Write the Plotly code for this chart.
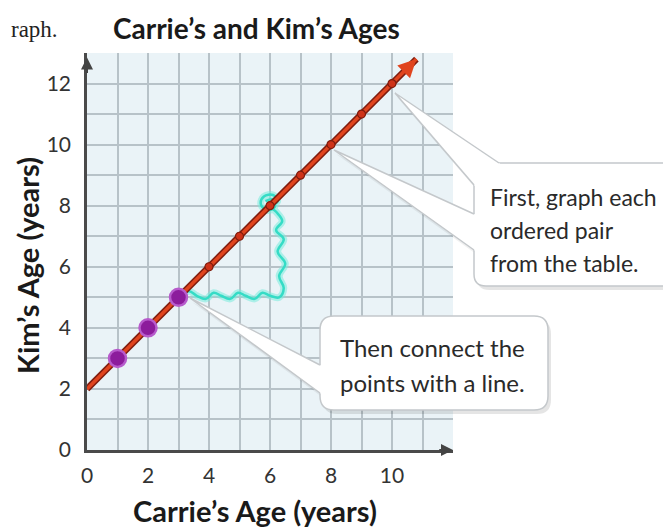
import plotly.graph_objects as go

# ---------------- data ----------------
carrie_age = [1, 2, 3, 4, 5, 6, 7, 8, 9, 10]
kim_age = [3, 4, 5, 6, 7, 8, 9, 10, 11, 12]
highlight_n = 3                      # first three pairs circled in purple
line_x = [0, 10.8]                   # extent of the drawn line (with arrow)
x_ticks = [0, 2, 4, 6, 8, 10]
y_ticks = [0, 2, 4, 6, 8, 10, 12]
# hand-drawn cyan "rise / run" scribble
scribble_x = [3.1, 3.35, 3.6, 3.9, 4.15, 4.4, 4.7, 4.95, 5.2, 5.5, 5.75, 6.0, 6.3, 6.45,
              6.3, 6.5, 6.25, 6.45, 6.2, 6.4, 6.2, 6.05, 6.25, 6.1, 5.8, 5.7, 5.9, 6.15, 6.1, 5.85]
scribble_y = [5.05, 5.2, 5.05, 4.95, 5.15, 5.05, 4.95, 5.15, 5.05, 4.95, 5.15, 5.05, 5.0, 5.3,
              5.7, 6.1, 6.5, 6.9, 7.2, 7.5, 7.8, 7.95, 8.15, 8.35, 8.3, 8.05, 7.85, 7.95, 8.2, 8.15]

title = "Carrie’s and Kim’s Ages"
x_title = "Carrie’s Age (years)"
y_title = "Kim’s Age (years)"
note1 = ["First, graph each", "ordered pair", "from the table."]
note2 = ["Then connect the", "points with a line."]

offset = kim_age[0] - carrie_age[0]
line_y = [x + offset for x in line_x]

# ---------------- layout geometry ----------------
# page body has an 8px margin; figure is sized to fit the 671x528 window
OFF = 8
W, H = 671 - OFF, 528 - OFF
PL, PT, PR, PB = 87, 53, 453, 450        # plot area in window pixels
L, T = PL - OFF, PT - OFF
R, B = W - (PR - OFF), H - (PB - OFF)
PW, PH = PR - PL, PB - PT


def px(x):
    return (x - PL) / PW


def py(y):
    return (PB - y) / PH


FONT = "Lato"
RED = "#e0441e"
RED_DARK = "#7e1c0e"

fig = go.Figure()

# cyan scribble (halo + line)
fig.add_trace(go.Scatter(x=scribble_x, y=scribble_y, mode="lines",
                         line=dict(color="rgba(120,235,220,0.55)", width=7, shape="spline", smoothing=1.1),
                         hoverinfo="skip", showlegend=False))
fig.add_trace(go.Scatter(x=scribble_x, y=scribble_y, mode="lines",
                         line=dict(color="#35dcc6", width=2.5, shape="spline", smoothing=1.1),
                         hoverinfo="skip", showlegend=False))

# line (dark outline + red core)
fig.add_trace(go.Scatter(x=line_x, y=line_y, mode="lines",
                         line=dict(color=RED_DARK, width=6.5), hoverinfo="skip", showlegend=False))
fig.add_trace(go.Scatter(x=line_x, y=line_y, mode="lines",
                         line=dict(color=RED, width=3.5), hoverinfo="skip", showlegend=False))

# red dots
fig.add_trace(go.Scatter(x=carrie_age[highlight_n:], y=kim_age[highlight_n:], mode="markers",
                         marker=dict(color="#cf3218", size=8, line=dict(color=RED_DARK, width=1.2)),
                         showlegend=False))
# purple circled points
fig.add_trace(go.Scatter(x=carrie_age[:highlight_n], y=kim_age[:highlight_n], mode="markers",
                         marker=dict(color="#8c1c9c", size=17, line=dict(color="#b75bcc", width=2.5)),
                         showlegend=False))

shapes = []


def rounded(x0, y0, x1, y1, r):
    rx, ry = r / PW, r / PH
    X0, X1, Y0, Y1 = px(x0), px(x1), py(y1), py(y0)
    return (f"M {X0+rx} {Y1} L {X1-rx} {Y1} Q {X1} {Y1} {X1} {Y1-ry} "
            f"L {X1} {Y0+ry} Q {X1} {Y0} {X1-rx} {Y0} L {X0+rx} {Y0} "
            f"Q {X0} {Y0} {X0} {Y0+ry} L {X0} {Y1-ry} Q {X0} {Y1} {X0+rx} {Y1} Z")


def pt(p):
    return f"{px(p[0])} {py(p[1])}"


def wedge_fill(tip, a, b, ext=14):
    def push(p):
        dx, dy = p[0] - tip[0], p[1] - tip[1]
        n = (dx * dx + dy * dy) ** 0.5
        return (p[0] + dx / n * ext, p[1] + dy / n * ext)
    return f"M {pt(tip)} L {pt(push(a))} L {pt(push(b))} Z"


def wedge_edges(tip, a, b):
    return f"M {pt(a)} L {pt(tip)} L {pt(b)}"


boxes = [
    dict(box=(474, 163, 720, 286, 12),
         wedges=[((395, 93), (499, 163), (474, 185)), ((334, 150), (474, 214), (474, 250))]),
    dict(box=(320, 316, 548, 410, 14),
         wedges=[((190, 298), (320, 365), (320, 393))]),
]
EDGE = "#c4c8cb"
for bx in boxes:
    x0, y0, x1, y1, r = bx["box"]
    shapes.append(dict(type="path", xref="paper", yref="paper", path=rounded(x0 + 3, y0 + 4, x1 + 3, y1 + 4, r),
                       fillcolor="rgba(0,0,0,0.10)", line=dict(width=0)))
    for tip, a, b in bx["wedges"]:
        shapes.append(dict(type="path", xref="paper", yref="paper",
                           path=wedge_fill((tip[0] + 2, tip[1] + 4), (a[0] + 2, a[1] + 4), (b[0] + 2, b[1] + 4), ext=0),
                           fillcolor="rgba(0,0,0,0.06)", line=dict(width=0)))
    shapes.append(dict(type="path", xref="paper", yref="paper", path=rounded(x0, y0, x1, y1, r),
                       fillcolor="white", line=dict(color=EDGE, width=1.5)))
    for tip, a, b in bx["wedges"]:
        shapes.append(dict(type="path", xref="paper", yref="paper", path=wedge_fill(tip, a, b),
                           fillcolor="white", line=dict(width=0)))
        shapes.append(dict(type="path", xref="paper", yref="paper", path=wedge_edges(tip, a, b),
                           line=dict(color=EDGE, width=1.5)))

annotations = []
# line arrowhead
annotations.append(dict(x=line_x[1], y=line_y[1], ax=line_x[1] - 0.5, ay=line_y[1] - 0.5,
                        xref="x", yref="y", axref="x", ayref="y", showarrow=True, text="",
                        arrowhead=2, arrowsize=1.2, arrowwidth=3, arrowcolor=RED))
# axis arrowheads
annotations.append(dict(x=12, y=0, ax=11.5, ay=0, xref="x", yref="y", axref="x", ayref="y",
                        showarrow=True, text="", arrowhead=2, arrowsize=1.2, arrowwidth=2, arrowcolor="#444"))
annotations.append(dict(x=0, y=12.85, ax=0, ay=12.3, xref="x", yref="y", axref="x", ayref="y",
                        showarrow=True, text="", arrowhead=2, arrowsize=1.2, arrowwidth=2, arrowcolor="#444"))


def label(x, y, text, size, family=FONT, color="#1a1a1a", xanchor="center", angle=0):
    annotations.append(dict(x=px(x), y=py(y), xref="paper", yref="paper", text=text,
                            xanchor=xanchor, yanchor="middle", textangle=angle, showarrow=False,
                            font=dict(family=family, size=size, color=color)))


label(256, 28, f"<b>{title}</b>", 28)
label(9, 30, "raph.", 23, family="Liberation Serif", color="#222", xanchor="left")
label(255, 510, f"<b>{x_title}</b>", 29)
label(27, 266, f"<b>{y_title}</b>", 29, angle=-90)

for i, s in enumerate(note1):
    label(488, 197 + 33 * i, s, 23, color="#2a2a2a", xanchor="left")
for i, s in enumerate(note2):
    label(338, 347 + 35 * i, s, 24, color="#2a2a2a", xanchor="left")

GRID = "#b7c2c8"
fig.update_layout(
    width=W, height=H,
    margin=dict(l=L, r=R, t=T, b=B, pad=0),
    paper_bgcolor="white", plot_bgcolor="#eaf3f7",
    showlegend=False,
    shapes=shapes, annotations=annotations,
    xaxis=dict(range=[0, 12], tickvals=x_ticks, ticktext=[str(v) for v in x_ticks],
               showgrid=True, gridcolor=GRID, gridwidth=2,
               minor=dict(dtick=1, showgrid=True, gridcolor=GRID, gridwidth=2),
               showline=True, linecolor="#4a4a4a", linewidth=2.5, zeroline=False,
               ticks="", ticklabelstandoff=5,
               tickfont=dict(family=FONT, size=21, color="#333")),
    yaxis=dict(range=[0, 13], tickvals=y_ticks, ticktext=[str(v) for v in y_ticks],
               showgrid=True, gridcolor=GRID, gridwidth=2,
               minor=dict(dtick=1, showgrid=True, gridcolor=GRID, gridwidth=2),
               showline=True, linecolor="#4a4a4a", linewidth=2.5, zeroline=False,
               ticks="", ticklabelstandoff=9,
               tickfont=dict(family=FONT, size=21, color="#333")),
)

fig.write_html("out.html")
